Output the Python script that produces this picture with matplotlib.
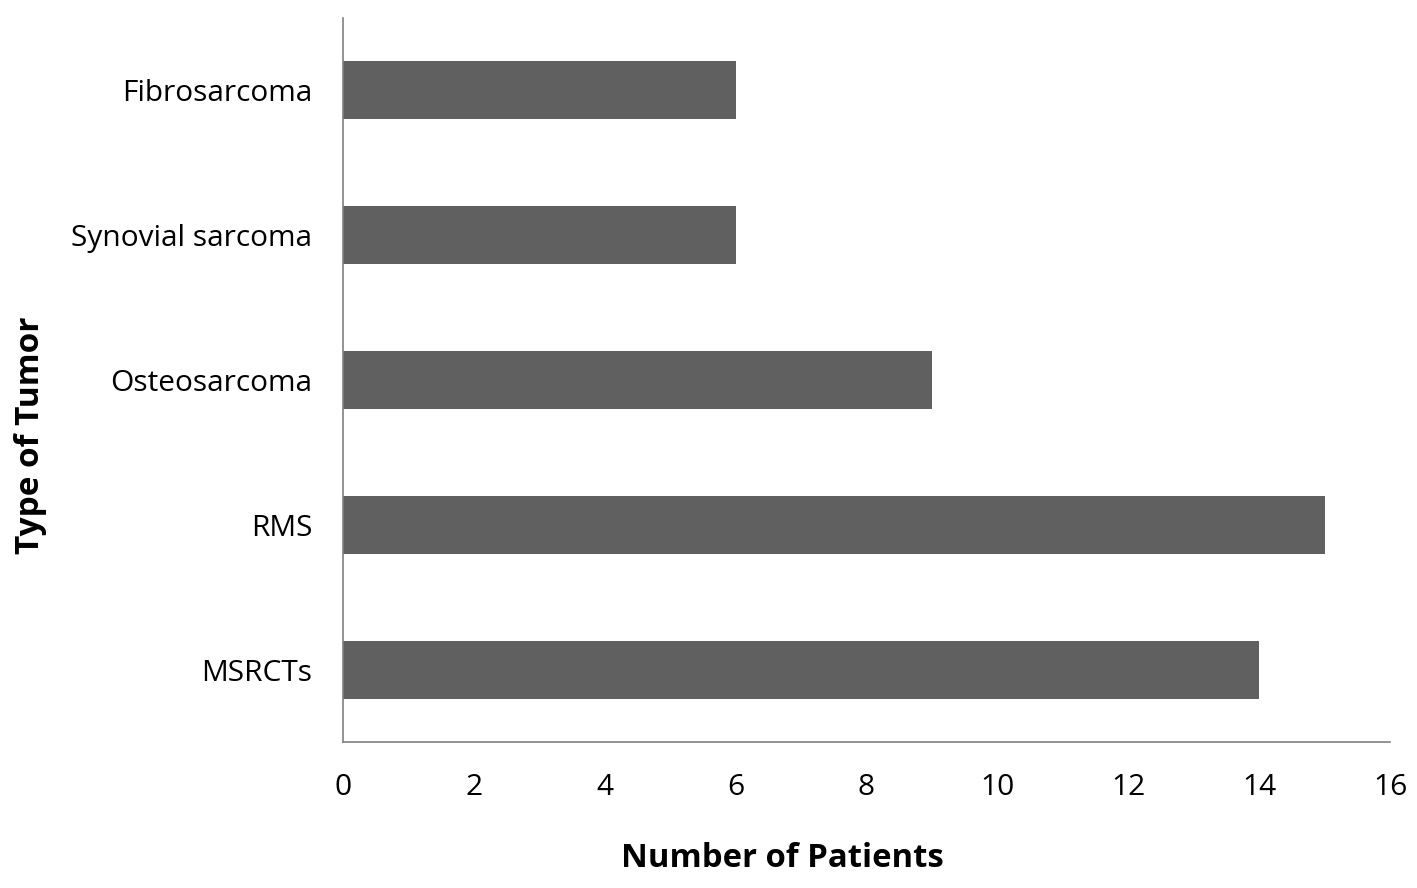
import matplotlib.pyplot as plt

tumors = ['MSRCTs', 'RMS', 'Osteosarcoma', 'Synovial sarcoma', 'Fibrosarcoma']
patients = [14, 15, 9, 6, 6]
xticks = [0, 2, 4, 6, 8, 10, 12, 14, 16]

plt.rcParams['font.family'] = ['Open Sans', 'DejaVu Sans']

fig = plt.figure(figsize=(14.17, 8.88), dpi=100)
ax = fig.add_axes([0.242, 0.164, 0.739, 0.816])

ax.barh(tumors, patients, height=0.4, color='#606060')

ax.set_xlim(0, 16)
ax.set_ylim(-0.5, 4.5)
ax.set_xticks(xticks)
ax.tick_params(axis='both', length=0, labelsize=21.5, colors='black')
ax.tick_params(axis='x', pad=22)
ax.tick_params(axis='y', pad=22)

for s in ['top', 'right']:
    ax.spines[s].set_visible(False)
for s in ['left', 'bottom']:
    ax.spines[s].set_color('#808080')
    ax.spines[s].set_linewidth(1.2)

ax.set_xlabel('Number of Patients', fontsize=23.7, fontweight='bold')
ax.set_ylabel('Type of Tumor', fontsize=24, fontweight='bold')
ax.xaxis.set_label_coords(0.42, -0.137)
ax.yaxis.set_label_coords(-0.283, 0.424)

fig.savefig('out.png', dpi=100)
